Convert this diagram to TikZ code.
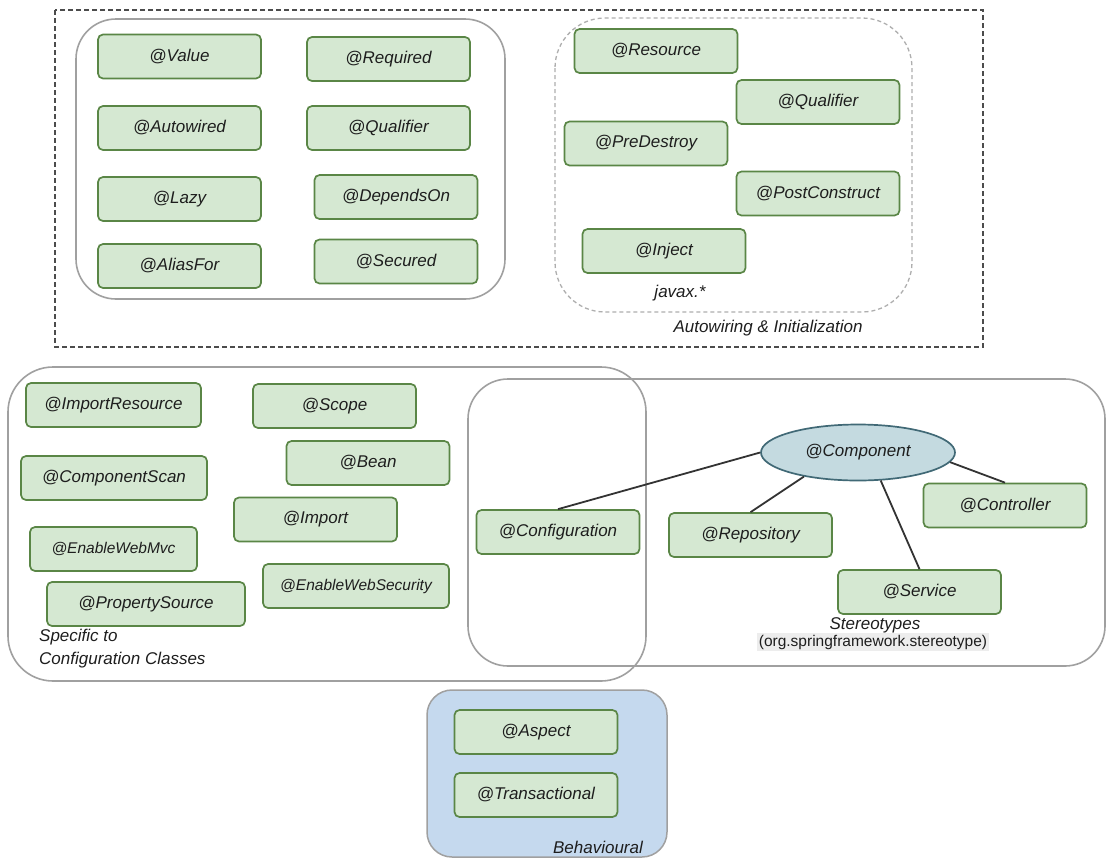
\documentclass[tikz,border=0pt]{standalone}
\usepackage{fontspec}
\setmainfont{Liberation Sans}
\usetikzlibrary{shapes.geometric}
\definecolor{gfill}{RGB}{213,232,210}
\definecolor{gdraw}{RGB}{90,134,70}
\definecolor{grayline}{RGB}{160,160,160}
\definecolor{efill}{RGB}{196,218,224}
\definecolor{edraw}{RGB}{65,105,118}
\definecolor{bfill}{RGB}{197,217,238}
\definecolor{txt}{RGB}{30,30,30}
\tikzset{
  gbox/.style={draw=gdraw, fill=gfill, line width=1.7pt, rounded corners=5pt,
    minimum width=163pt, minimum height=44pt, inner sep=0pt,
    font=\fontsize{17}{20}\selectfont\itshape, text=txt},
  grp/.style={draw=grayline, line width=1.6pt},
  lbl/.style={font=\fontsize{17}{20}\selectfont\itshape, text=txt, inner sep=0pt},
  conn/.style={draw=black!80, line width=1.8pt},
}
\begin{document}
\begin{tikzpicture}[x=1pt,y=-1pt]
\useasboundingbox[fill=white] (0,0) rectangle (1108,860);
% group frames
\draw[draw=black!70, line width=1.4pt, dash pattern=on 5pt off 3pt] (55,10) rectangle (983,347);
\draw[grp, rounded corners=40pt] (76,19) rectangle (505,299);
\draw[draw=grayline!85, line width=1.3pt, dash pattern=on 4pt off 3pt, rounded corners=50pt] (555,18) rectangle (912,312);
\draw[grp, rounded corners=45pt] (8,367) rectangle (646,681);
\draw[grp, rounded corners=40pt] (468,379) rectangle (1105,666);
\draw[draw=grayline, fill=bfill, line width=1.5pt, rounded corners=25pt] (427,690) rectangle (667,857);

% top-left group
\node[gbox] (value) at (179.5,56.5) {@Value};
\node[gbox] (required) at (388.5,59) {@Required};
\node[gbox] (autowired) at (179.5,128) {@Autowired};
\node[gbox] (qualA) at (388.5,128) {@Qualifier};
\node[gbox] (lazy) at (179.5,199) {@Lazy};
\node[gbox] (depends) at (396,197) {@DependsOn};
\node[gbox] (alias) at (179.5,266) {@AliasFor};
\node[gbox] (secured) at (396,261.5) {@Secured};

% javax group
\node[gbox] (resource) at (656,51) {@Resource};
\node[gbox] (qualB) at (818,102) {@Qualifier};
\node[gbox] (predestroy) at (646,143.5) {@PreDestroy};
\node[gbox] (postconstruct) at (818,193.5) {@PostConstruct};
\node[gbox] (inject) at (664,251) {@Inject};
\node[lbl] (javax) at (680,293) {javax.*};
\node[lbl] (autolbl) at (768,328) {Autowiring \& Initialization};

% configuration classes
\node[gbox, minimum width=175pt] (importres) at (113.5,405) {@ImportResource};
\node[gbox] (scope) at (334.5,406) {@Scope};
\node[gbox, minimum width=186pt] (compscan) at (114,478) {@ComponentScan};
\node[gbox] (bean) at (368,463) {@Bean};
\node[gbox] (import) at (315.5,519.5) {@Import};
\node[gbox, minimum width=167pt, font=\fontsize{15.5}{18}\selectfont\itshape] (webmvc) at (113.5,549) {@EnableWebMvc};
\node[gbox, minimum width=198pt] (propsrc) at (146,604) {@PropertySource};
\node[gbox, minimum width=186pt, font=\fontsize{15.5}{18}\selectfont\itshape] (websec) at (356,586) {@EnableWebSecurity};
\node[lbl, anchor=west, align=left, font=\fontsize{17}{23}\selectfont\itshape] (cfglbl) at (39,648.5) {Specific to\\Configuration Classes};

% stereotypes
\node[draw=edraw, fill=efill, line width=1.7pt, ellipse, minimum width=194pt, minimum height=56pt, inner sep=0pt,
      font=\fontsize{17}{20}\selectfont\itshape, text=txt] (comp) at (858,452.5) {@Component};
\node[gbox] (config) at (558,532) {@Configuration};
\node[gbox] (repo) at (750.5,535) {@Repository};
\node[gbox] (ctrl) at (1005,505.5) {@Controller};
\node[gbox] (service) at (919.5,592) {@Service};
\node[lbl] (stereo) at (875,625) {Stereotypes};
\node[fill=black!7, inner sep=1.5pt, font=\fontsize{15.5}{18}\selectfont, text=txt] (pkg) at (873,642) {(org.springframework.stereotype)};

\draw[conn] (comp.180) -- (config.north);
\draw[conn] (comp.204) -- (repo.north);
\draw[conn] (comp.309) -- (service.north);
\draw[conn] (comp.354) -- (ctrl.north);

% behavioural
\node[gbox] (aspect) at (536,732) {@Aspect};
\node[gbox] (trans) at (536,795) {@Transactional};
\node[lbl] (behav) at (598,847) {Behavioural};
\end{tikzpicture}
\end{document}
